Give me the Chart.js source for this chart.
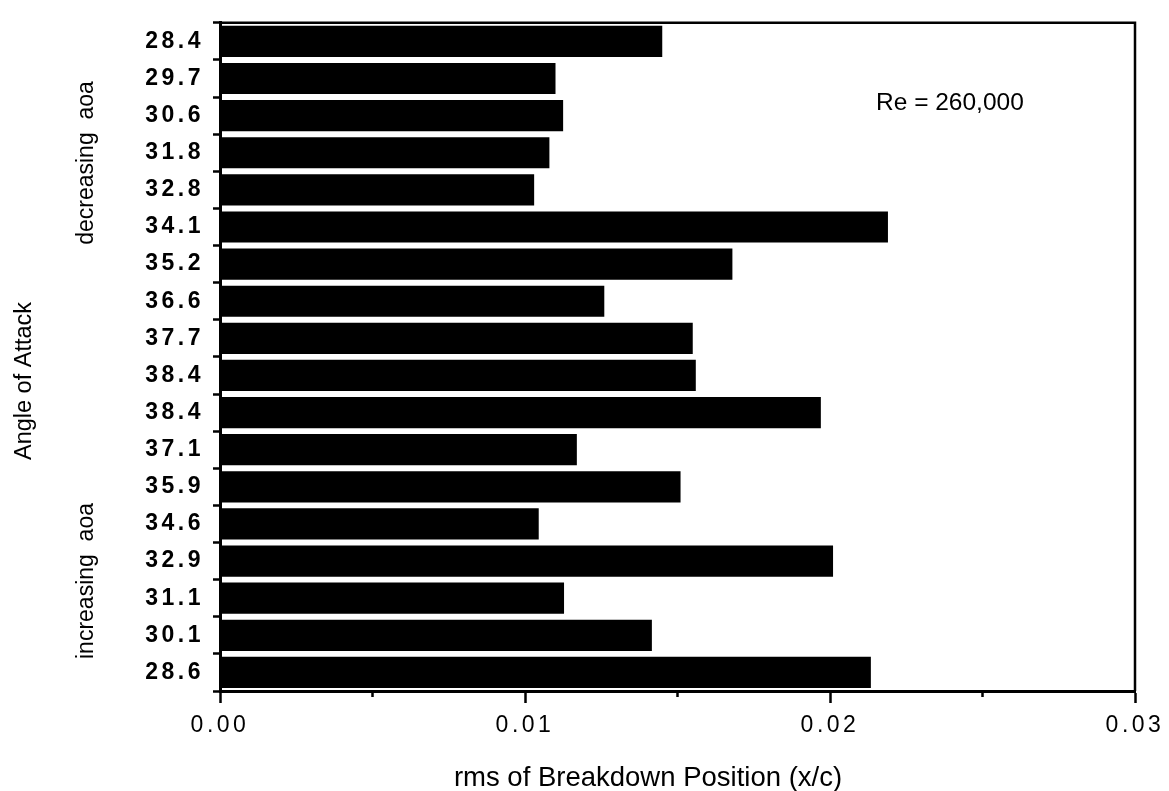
<!DOCTYPE html>
<html lang="en">
<head>
  <meta charset="UTF-8" />
  <title>rms of Breakdown Position</title>
  <script src="https://cdn.jsdelivr.net/npm/chart.js"></script>
  <style>
    body {
      margin: 0;
      background: #fff;
    }
    #wrap {
      width: 1169px;
      height: 791px;
    }
  </style>
</head>
<body>

  <div id="wrap"><canvas id="rmsChart" width="1169" height="791"></canvas></div>

  <script>
    // angle of attack for each run, top to bottom
    const angleLabels = [
      '28.4', '29.7', '30.6', '31.8', '32.8', '34.1', '35.2', '36.6', '37.7',
      '38.4', '38.4', '37.1', '35.9', '34.6', '32.9', '31.1', '30.1', '28.6'
    ];
    // rms of breakdown position (x/c)
    const rmsValues = [
      0.0145, 0.0110, 0.01125, 0.0108, 0.0103, 0.0219, 0.0168, 0.0126, 0.0155,
      0.0156, 0.0197, 0.0117, 0.0151, 0.01045, 0.0201, 0.01128, 0.01416, 0.02134
    ];
    const xMin = 0;
    const xMax = 0.03;
    const xStep = 0.005;
    const minorTicks = [0.005, 0.015, 0.025];

    const FONT = "'Liberation Sans', Arial, Helvetica, sans-serif";

    function isMajor(v) {
      return Math.round(v * 1000) % 10 === 0;
    }

    // tick labels are spaced out a little, titles are not
    const extras = {
      id: 'extras',
      beforeDraw(chart) {
        chart.ctx.letterSpacing = '3.5px';
      },
      beforeDatasetsDraw(chart) {
        chart.ctx.letterSpacing = '0px';
      },
      afterDraw(chart) {
        const ctx = chart.ctx;
        const a = chart.chartArea;
        const xs = chart.scales.x;
        ctx.save();
        ctx.letterSpacing = '0px';
        ctx.strokeStyle = '#000';
        ctx.lineWidth = 2.5;
        ctx.beginPath();
        ctx.moveTo(a.left, a.top);
        ctx.lineTo(a.right, a.top);
        ctx.lineTo(a.right, a.bottom);
        ctx.stroke();

        // short unlabelled ticks
        minorTicks.forEach(v => {
          const px = xs.getPixelForValue(v);
          ctx.beginPath();
          ctx.moveTo(px, a.bottom);
          ctx.lineTo(px, a.bottom + 6);
          ctx.stroke();
        });

        ctx.fillStyle = '#000';
        ctx.textBaseline = 'alphabetic';

        ctx.font = '27.5px ' + FONT;
        ctx.textAlign = 'center';
        ctx.fillText('rms of Breakdown Position (x/c)', 648, 786);

        ctx.font = '24.5px ' + FONT;
        ctx.textAlign = 'left';
        ctx.fillText('Re = 260,000', 876, 110);

        const vtext = (txt, x, y, size) => {
          ctx.save();
          ctx.translate(x, y);
          ctx.rotate(-Math.PI / 2);
          ctx.font = size + 'px ' + FONT;
          ctx.textAlign = 'center';
          ctx.fillText(txt, 0, 0);
          ctx.restore();
        };
        vtext('Angle of Attack', 31, 381, 23.5);
        vtext('decreasing  aoa', 93, 163, 23);
        vtext('increasing  aoa', 93, 581, 23);
        ctx.restore();
      }
    };

    new Chart(document.getElementById('rmsChart'), {
      type: 'bar',
      data: {
        labels: angleLabels,
        datasets: [{
          data: rmsValues,
          backgroundColor: '#000',
          borderWidth: 0,
          barPercentage: 0.84,
          categoryPercentage: 1
        }]
      },
      options: {
        indexAxis: 'y',
        responsive: false,
        animation: false,
        layout: { padding: { top: 22, right: 34, left: 0, bottom: 0 } },
        plugins: {
          legend: { display: false },
          tooltip: { enabled: false }
        },
        scales: {
          x: {
            min: xMin,
            max: xMax,
            afterFit: s => { s.height = 100; },
            border: { display: true, color: '#000', width: 3 },
            grid: {
              drawOnChartArea: false,
              drawTicks: true,
              tickLength: 12,
              tickWidth: 2.5,
              tickColor: c => isMajor(c.tick.value) ? '#000' : 'rgba(0,0,0,0)'
            },
            ticks: {
              stepSize: xStep,
              autoSkip: false,
              maxRotation: 0,
              padding: 9,
              color: '#000',
              font: { family: FONT, size: 23 },
              callback: v => isMajor(v) ? v.toFixed(2) : ''
            }
          },
          y: {
            afterFit: s => { s.width = 220; },
            border: { display: true, color: '#000', width: 3 },
            grid: {
              offset: true,
              drawOnChartArea: false,
              drawTicks: true,
              tickLength: 7,
              tickWidth: 2.5,
              tickColor: '#000'
            },
            ticks: {
              padding: 9,
              color: '#000',
              font: { family: FONT, size: 23, weight: 'bold' }
            }
          }
        }
      },
      plugins: [extras]
    });
  </script>
</body>
</html>
